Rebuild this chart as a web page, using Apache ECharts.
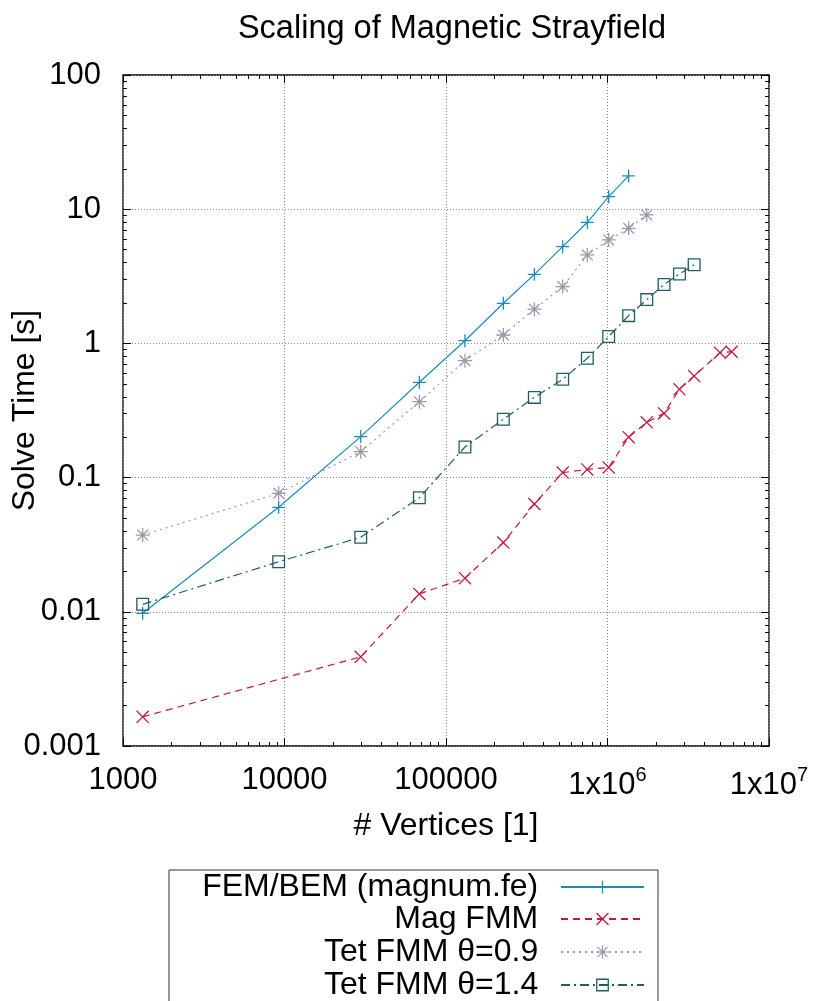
<!DOCTYPE html>
<html>
<head>
  <meta charset="utf-8" />
  <title>Scaling of Magnetic Strayfield</title>
  <script src="https://cdn.jsdelivr.net/npm/echarts@6/dist/echarts.min.js"></script>
  <style>
    html, body { margin: 0; padding: 0; background: #fff; }
    #chart { width: 820px; height: 1001px; }
  </style>
</head>
<body>
  <div id="chart"></div>
  <script>
    // vertices and solve times
    const femVertices = [1324, 9200, 29650, 68400, 131000, 226500, 352500, 528000, 750000, 1017000, 1352000]
    const femTime = [0.00975, 0.0601, 0.202, 0.513, 1.047, 1.99, 3.27, 5.26, 7.99, 12.4, 17.7]

    const magVertices = [1324, 29650, 68400, 131000, 226500, 352500, 528000, 750000, 1017000, 1352000, 1750000, 2240000, 2790000, 3440000, 4970000, 5870000]
    const magTime = [0.00165, 0.00462, 0.0136, 0.0178, 0.0328, 0.0636, 0.109, 0.115, 0.119, 0.2, 0.258, 0.301, 0.455, 0.571, 0.853, 0.867]

    const tet09Vertices = [1324, 9200, 29650, 68400, 131000, 226500, 352500, 528000, 750000, 1017000, 1352000, 1750000]
    const tet09Time = [0.0373, 0.0764, 0.156, 0.368, 0.743, 1.155, 1.8, 2.65, 4.56, 5.9, 7.21, 9.06]

    const tet14Vertices = [1324, 9200, 29650, 68400, 131000, 226500, 352500, 528000, 750000, 1017000, 1352000, 1750000, 2240000, 2790000, 3440000]
    const tet14Time = [0.01137, 0.0236, 0.0359, 0.0708, 0.169, 0.272, 0.396, 0.54, 0.775, 1.125, 1.61, 2.12, 2.75, 3.29, 3.86]

    const seriesNames = ["FEM/BEM (magnum.fe)", "Mag FMM", "Tet FMM \u03b8=0.9", "Tet FMM \u03b8=1.4"]

    // minor ticks 2..9 per decade
    const xMinorTicks = [1000, 10000, 100000, 1000000].flatMap(d => [2, 3, 4, 5, 6, 7, 8, 9].map(k => k * d))
    const yMinorTicks = [0.001, 0.01, 0.1, 1, 10].flatMap(d => [2, 3, 4, 5, 6, 7, 8, 9].map(k => +(k * d).toPrecision(2)))

    const FONT = "Liberation Sans"

    // gnuplot style point shapes (filled thin paths)
    const PLUS = "path://M0,4.5h10v1h-10z M4.5,0h1v10h-1z"
    const CROSS = "path://M0,0.7L0.7,0L10,9.3L9.3,10Z M9.3,0L10,0.7L0.7,10L0,9.3Z"
    const STAR = "path://M0,4.55h10v0.9h-10z M4.55,0h0.9v10h-0.9z M0.9,1.55L1.55,0.9L9.1,8.45L8.45,9.1Z M8.45,0.9L9.1,1.55L1.55,9.1L0.9,8.45Z"
    const BOX = "path://M0,0h10v10h-10z M1,1v8h8v-8z"

    function pairs(xs, ys) {
      return xs.map((x, i) => [x, ys[i]])
    }

    function xLabel(value) {
      let v = Math.round(value)
      if (v >= 1000000) {
        let e = Math.round(Math.log10(v))
        return "{m|1x10}{s|" + e + "}"
      }
      return "{n|" + v + "}"
    }

    function yLabel(value) {
      return String(Number(value.toPrecision(3)))
    }

    const tickStyle = { color: "#000", width: 1 }

    function makeSeries(name, data, color, symbol, size, dash) {
      return {
        name: name,
        type: "line",
        data: data,
        symbol: symbol,
        symbolSize: size,
        showSymbol: true,
        lineStyle: { color: color, width: 1.2, type: dash },
        itemStyle: { color: color },
        emphasis: { disabled: true },
        animation: false,
        z: 3
      }
    }

    function makeLegend(name, top) {
      return {
        data: [name],
        orient: "vertical",
        align: "right",
        right: 175,
        top: top,
        padding: 0,
        itemWidth: 83,
        itemHeight: 16,
        selectedMode: false,
        formatter: n => n + "  ",
        textStyle: { fontFamily: FONT, fontSize: 32, color: "#000", lineHeight: 32 }
      }
    }

    const chart = echarts.init(document.getElementById("chart"), null, { renderer: "canvas" })

    const option = {
      backgroundColor: "#fff",
      animation: false,
      title: {
        text: "Scaling of Magnetic Strayfield",
        left: 447,
        textAlign: "center",
        top: 8,
        textStyle: { fontFamily: FONT, fontSize: 32.5, fontWeight: "normal", color: "#000" }
      },
      grid: {
        left: 123,
        right: 51,
        top: 75,
        bottom: 255,
        show: true,
        borderColor: "#000",
        borderWidth: 1.3,
        containLabel: false,
        outerBoundsMode: "none"
      },
      legend: [
        makeLegend(seriesNames[0], 871),
        makeLegend(seriesNames[1], 903),
        makeLegend(seriesNames[2], 936),
        makeLegend(seriesNames[3], 969)
      ],
      xAxis: [
        {
          type: "log",
          logBase: 10,
          min: 1000,
          max: 10000000,
          position: "bottom",
          axisLine: { show: false },
          axisTick: { inside: true, length: 8, lineStyle: tickStyle },
          splitLine: { show: true, lineStyle: { color: "#8a8a8a", width: 1, type: [1, 2] } },
          axisLabel: {
            margin: 19,
            formatter: xLabel,
            color: "#000",
            rich: {
              n: { fontFamily: FONT, fontSize: 31, color: "#000" },
              m: { fontFamily: FONT, fontSize: 31, color: "#000", padding: [5, 0, 0, 0] },
              s: { fontFamily: FONT, fontSize: 20, color: "#000", verticalAlign: "top" }
            }
          },
          name: "# Vertices [1]",
          nameLocation: "middle",
          nameGap: 64,
          nameMoveOverlap: false,
          nameTextStyle: { fontFamily: FONT, fontSize: 32, color: "#000" }
        },
        {
          type: "log", logBase: 10, min: 1000, max: 10000000, position: "bottom",
          axisLine: { show: false }, axisLabel: { show: false }, splitLine: { show: false },
          axisTick: { inside: true, length: 4, lineStyle: tickStyle, customValues: xMinorTicks }
        },
        {
          type: "log", logBase: 10, min: 1000, max: 10000000, position: "top",
          axisLine: { show: false }, axisLabel: { show: false }, splitLine: { show: false },
          axisTick: { inside: true, length: 8, lineStyle: tickStyle }
        },
        {
          type: "log", logBase: 10, min: 1000, max: 10000000, position: "top",
          axisLine: { show: false }, axisLabel: { show: false }, splitLine: { show: false },
          axisTick: { inside: true, length: 4, lineStyle: tickStyle, customValues: xMinorTicks }
        }
      ],
      yAxis: [
        {
          type: "log",
          logBase: 10,
          min: 0.001,
          max: 100,
          position: "left",
          axisLine: { show: false },
          axisTick: { inside: true, length: 8, lineStyle: tickStyle },
          splitLine: { show: true, lineStyle: { color: "#8a8a8a", width: 1, type: [1, 2] } },
          axisLabel: { margin: 22, formatter: yLabel, fontFamily: FONT, fontSize: 31, color: "#000" },
          name: "Solve Time [s]",
          nameLocation: "middle",
          nameGap: 82,
          nameMoveOverlap: false,
          nameTextStyle: { fontFamily: FONT, fontSize: 32, color: "#000" }
        },
        {
          type: "log", logBase: 10, min: 0.001, max: 100, position: "left",
          axisLine: { show: false }, axisLabel: { show: false }, splitLine: { show: false },
          axisTick: { inside: true, length: 4, lineStyle: tickStyle, customValues: yMinorTicks }
        },
        {
          type: "log", logBase: 10, min: 0.001, max: 100, position: "right",
          axisLine: { show: false }, axisLabel: { show: false }, splitLine: { show: false },
          axisTick: { inside: true, length: 8, lineStyle: tickStyle }
        },
        {
          type: "log", logBase: 10, min: 0.001, max: 100, position: "right",
          axisLine: { show: false }, axisLabel: { show: false }, splitLine: { show: false },
          axisTick: { inside: true, length: 4, lineStyle: tickStyle, customValues: yMinorTicks }
        }
      ],
      series: [
        makeSeries(seriesNames[0], pairs(femVertices, femTime), "#1b8cba", PLUS, 13, "solid"),
        makeSeries(seriesNames[1], pairs(magVertices, magTime), "#c8143c", CROSS, 13, [7, 5]),
        makeSeries(seriesNames[2], pairs(tet09Vertices, tet09Time), "#a096aa", STAR, 14, [2, 4]),
        makeSeries(seriesNames[3], pairs(tet14Vertices, tet14Time), "#1e5f64", BOX, 13, [9, 4, 2, 4])
      ],
      graphic: [
        {
          type: "rect",
          shape: { x: 169, y: 870, width: 489, height: 140 },
          style: { fill: "none", stroke: "#333", lineWidth: 1 },
          silent: true
        }
      ]
    }

    chart.setOption(option)
  </script>
</body>
</html>
